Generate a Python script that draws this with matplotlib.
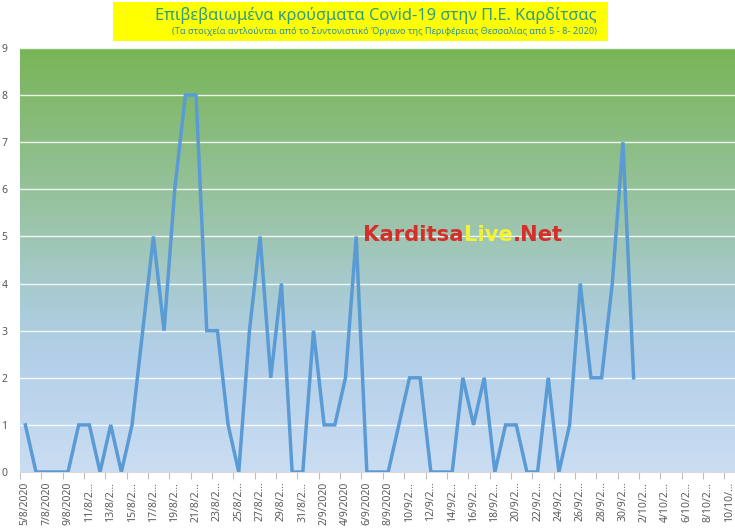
import numpy as np
import matplotlib
matplotlib.use("Agg")
import matplotlib.pyplot as plt
from matplotlib.colors import LinearSegmentedColormap
from matplotlib.patches import Rectangle
from matplotlib.offsetbox import TextArea, HPacker, AnnotationBbox

plt.rcParams['font.family'] = ['Noto Sans', 'DejaVu Sans']

# ─── DATA ────────────────────────────────────────────────────────────────────

DATES = [
    "5/8/2020", "6/8/2020", "7/8/2020", "8/8/2020", "9/8/2020", "10/8/2020",
    "11/8/2020", "12/8/2020", "13/8/2020", "14/8/2020", "15/8/2020", "16/8/2020",
    "17/8/2020", "18/8/2020", "19/8/2020", "20/8/2020", "21/8/2020", "22/8/2020",
    "23/8/2020", "24/8/2020", "25/8/2020", "26/8/2020", "27/8/2020", "28/8/2020",
    "29/8/2020", "30/8/2020", "31/8/2020", "1/9/2020", "2/9/2020", "3/9/2020",
    "4/9/2020", "5/9/2020", "6/9/2020", "7/9/2020", "8/9/2020", "9/9/2020",
    "10/9/2020", "11/9/2020", "12/9/2020", "13/9/2020", "14/9/2020", "15/9/2020",
    "16/9/2020", "17/9/2020", "18/9/2020", "19/9/2020", "20/9/2020", "21/9/2020",
    "22/9/2020", "23/9/2020", "24/9/2020", "25/9/2020", "26/9/2020", "27/9/2020",
    "28/9/2020", "29/9/2020", "30/9/2020", "1/10/2020", "2/10/2020", "3/10/2020",
    "4/10/2020", "5/10/2020", "6/10/2020", "7/10/2020", "8/10/2020", "9/10/2020",
    "10/10/2020",
]

CASES = [1, 0, 0, 0, 0, 1, 1, 0, 1, 0,
         1, 3, 5, 3, 6, 8, 8, 3, 3, 1,
         0, 3, 5, 2, 4, 0, 0, 3, 1, 1,
         2, 5, 0, 0, 0, 1, 2, 2, 0, 0,
         0, 2, 1, 2, 0, 1, 1, 0, 0, 2,
         0, 1, 4, 2, 2, 4, 7, 2]

Y_TICKS = [0, 1, 2, 3, 4, 5, 6, 7, 8, 9]

TITLE    = "Επιβεβαιωμένα κρούσματα Covid-19 στην Π.Ε. Καρδίτσας"
SUBTITLE = ("(Τα στοιχεία αντλούνται από το Συντονιστικό Όργανο της "
            "Περιφέρειας Θεσσαλίας από 5 - 8- 2020)")


# ─── FIGURE ──────────────────────────────────────────────────────────────────

W, H = 735, 529
fig = plt.figure(figsize=(W / 100, H / 100), dpi=100)
fig.patch.set_facecolor("white")

ax = fig.add_axes([20 / W, 57 / H, 715 / W, 424 / H])

n_cat = len(DATES)
x = np.arange(n_cat)
y = np.full(n_cat, np.nan)
y[:len(CASES)] = CASES

# gradient background (light blue at bottom -> green at top)
grad_cmap = LinearSegmentedColormap.from_list("bg", [
    (0.00, (202 / 255, 221 / 255, 242 / 255)),
    (0.28, (178 / 255, 207 / 255, 232 / 255)),
    (0.42, (168 / 255, 203 / 255, 210 / 255)),
    (0.60, (155 / 255, 196 / 255, 168 / 255)),
    (1.00, (120 / 255, 181 / 255, 86 / 255)),
])
grad = np.linspace(0, 1, 256).reshape(-1, 1)
ax.imshow(grad, cmap=grad_cmap, origin="lower", aspect="auto",
          extent=(-0.5, n_cat - 0.5, 0, 9), zorder=0)

for t in Y_TICKS[1:]:
    ax.axhline(t, color="white", linewidth=1.0, alpha=0.85, zorder=1)

ax.plot(x, y, color="#5b9bd5", linewidth=2.5, solid_joinstyle="miter", zorder=3)

ax.set_xlim(-0.5, n_cat - 0.5)
ax.set_ylim(0, 9)

for side in ["top", "right", "left"]:
    ax.spines[side].set_visible(False)
ax.spines["bottom"].set_color("#d9d9d9")
ax.spines["bottom"].set_linewidth(0.8)

ax.set_yticks(Y_TICKS)
ax.tick_params(axis="y", length=0, pad=9, labelsize=7.5, labelcolor="#595959")


def short_label(s):
    return s if len(s) <= 8 else s[:6] + "..."


label_idx = list(range(0, n_cat, 2))
ax.set_xticks(label_idx)
ax.set_xticklabels([short_label(DATES[i]) for i in label_idx],
                   rotation=90, fontsize=7.5, color="#595959")
ax.tick_params(axis="x", which="major", length=0, pad=7)
ax.set_xticks(np.arange(-0.5, n_cat, 2), minor=True)
ax.tick_params(axis="x", which="minor", length=5, width=0.8,
               color="#bfbfbf", direction="out")

# ─── TITLE BOX ───────────────────────────────────────────────────────────────

fig.patches.append(Rectangle((113 / W, (H - 41) / H), 495 / W, 39 / H,
                             transform=fig.transFigure, facecolor="#ffff00",
                             edgecolor="none", zorder=5))
fig.text(376 / W, (H - 15) / H, TITLE, ha="center", va="center",
         fontsize=11.8, color="#2f9c84", fontweight="medium", zorder=6)
fig.text(385 / W, (H - 31) / H, SUBTITLE, ha="center", va="center",
         fontsize=6.6, fontweight="bold", color="#2a8fa0", zorder=6)

# ─── WATERMARK ───────────────────────────────────────────────────────────────

wm_style = dict(fontsize=15.2, fontweight="bold", family="DejaVu Sans")
parts = [TextArea("Karditsa", textprops=dict(color="#d42f2a", **wm_style)),
         TextArea("Live", textprops=dict(color="#f2f23a", **wm_style)),
         TextArea(".Net", textprops=dict(color="#d42f2a", **wm_style))]
pack = HPacker(children=parts, pad=0, sep=0)
ab = AnnotationBbox(pack, (463 / W, (H - 235) / H), xycoords="figure fraction",
                    frameon=False, box_alignment=(0.5, 0.5), zorder=7)
fig.add_artist(ab)

plt.savefig("out.png", dpi=100)
plt.close()
